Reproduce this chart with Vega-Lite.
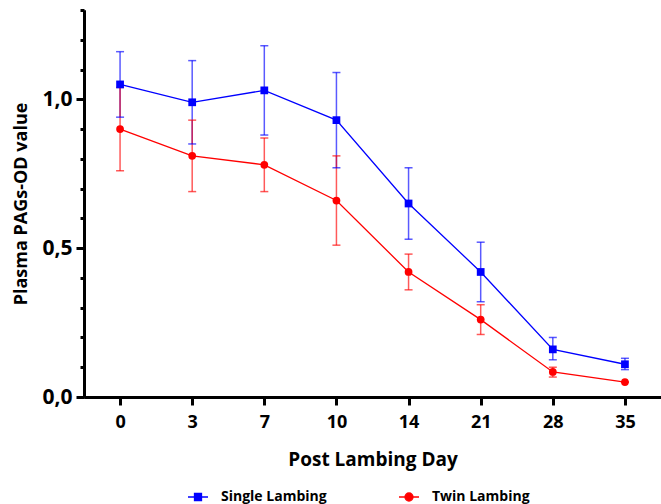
{
  "$schema": "https://vega.github.io/schema/vega-lite/v6.json",
  "width": 577,
  "height": 387,
  "autosize": {"type": "none"},
  "padding": {"left": 84, "top": 10, "right": 0, "bottom": 107},
  "background": "white",
  "config": {
    "view": {"stroke": null},
    "font": "Open Sans",
    "axis": {"grid": false, "domainColor": "black", "tickColor": "black", "labelColor": "black", "titleColor": "black", "labelFont": "Open Sans", "titleFont": "Open Sans", "labelFontWeight": "bold", "titleFontWeight": "bold"}
  },
  "data": {
    "values": [
      {"day": "0", "group": "Single Lambing", "mean": 1.05, "lo": 0.94, "hi": 1.16},
      {"day": "3", "group": "Single Lambing", "mean": 0.99, "lo": 0.85, "hi": 1.13},
      {"day": "7", "group": "Single Lambing", "mean": 1.03, "lo": 0.88, "hi": 1.18},
      {"day": "10", "group": "Single Lambing", "mean": 0.93, "lo": 0.77, "hi": 1.09},
      {"day": "14", "group": "Single Lambing", "mean": 0.65, "lo": 0.53, "hi": 0.77},
      {"day": "21", "group": "Single Lambing", "mean": 0.42, "lo": 0.32, "hi": 0.52},
      {"day": "28", "group": "Single Lambing", "mean": 0.16, "lo": 0.125, "hi": 0.2},
      {"day": "35", "group": "Single Lambing", "mean": 0.11, "lo": 0.092, "hi": 0.13},
      {"day": "0", "group": "Twin Lambing", "mean": 0.9, "lo": 0.76, "hi": 1.04},
      {"day": "3", "group": "Twin Lambing", "mean": 0.81, "lo": 0.69, "hi": 0.93},
      {"day": "7", "group": "Twin Lambing", "mean": 0.78, "lo": 0.69, "hi": 0.87},
      {"day": "10", "group": "Twin Lambing", "mean": 0.66, "lo": 0.51, "hi": 0.81},
      {"day": "14", "group": "Twin Lambing", "mean": 0.42, "lo": 0.36, "hi": 0.48},
      {"day": "21", "group": "Twin Lambing", "mean": 0.26, "lo": 0.21, "hi": 0.31},
      {"day": "28", "group": "Twin Lambing", "mean": 0.084, "lo": 0.067, "hi": 0.1},
      {"day": "35", "group": "Twin Lambing", "mean": 0.05, "lo": 0.05, "hi": 0.05}
    ]
  },
  "encoding": {
    "x": {
      "field": "day", "type": "ordinal",
      "sort": ["0", "3", "7", "10", "14", "21", "28", "35"],
      "scale": {"type": "point", "padding": 0.5},
      "axis": {"title": "Post Lambing Day", "labelAngle": 0, "domainWidth": 3, "tickWidth": 3, "tickSize": 8, "labelFontSize": 18, "labelPadding": 8, "titleFontSize": 19, "titlePadding": 19}
    },
    "color": {
      "field": "group", "type": "nominal",
      "scale": {"domain": ["Single Lambing", "Twin Lambing"], "range": ["#0000FF", "#FF0000"]},
      "legend": {
        "title": null, "orient": "none", "direction": "horizontal", "legendX": 103, "legendY": 476,
        "labelFont": "Open Sans", "labelFontWeight": "bold", "labelFontSize": 14, "labelColor": "black",
        "symbolSize": 400, "columnPadding": 69, "labelOffset": 12,
        "encode": {
          "symbols": {"update": {
            "shape": {"signal": "datum.value === 'Single Lambing' ? 'M-1,0H1M-0.35,-0.35H0.35V0.35H-0.35Z' : 'M-1,0H1M0.4,0A0.4,0.4 0 1 1 -0.4,0A0.4,0.4 0 1 1 0.4,0Z'"},
            "fill": {"signal": "datum.value === 'Single Lambing' ? '#0000FF' : '#FF0000'"},
            "stroke": {"signal": "datum.value === 'Single Lambing' ? '#0000FF' : '#FF0000'"},
            "fillOpacity": {"value": 1},
            "strokeWidth": {"value": 1.3},
            "size": {"value": 400}
          }}
        }
      }
    }
  },
  "resolve": {"scale": {"y": "independent"}, "axis": {"y": "independent"}},
  "layer": [
    {
      "mark": {"type": "rule", "strokeWidth": 1.5, "opacity": 0.65},
      "encoding": {
        "y": {"field": "lo", "type": "quantitative", "scale": {"domain": [0, 1.3], "nice": false, "zero": true},
          "axis": {"orient": "left", "values": [0, 0.1, 0.2, 0.3, 0.4, 0.6, 0.7, 0.8, 0.9, 1.1, 1.2, 1.3], "labels": false, "tickSize": 4, "tickWidth": 3, "domainWidth": 3, "title": null}},
        "y2": {"field": "hi"}
      }
    },
    {
      "mark": {"type": "tick", "thickness": 1.5, "size": 8, "opacity": 0.65},
      "encoding": {"y": {"field": "lo", "type": "quantitative", "scale": {"domain": [0, 1.3], "nice": false}, "axis": null}}
    },
    {
      "mark": {"type": "tick", "thickness": 1.5, "size": 8, "opacity": 0.65},
      "encoding": {"y": {"field": "hi", "type": "quantitative", "scale": {"domain": [0, 1.3], "nice": false}, "axis": null}}
    },
    {
      "mark": {"type": "line", "strokeWidth": 1.3},
      "encoding": {"y": {"field": "mean", "type": "quantitative", "scale": {"domain": [0, 1.3], "nice": false}, "axis": null}}
    },
    {
      "transform": [{"filter": "datum.group === 'Single Lambing'"}],
      "mark": {"type": "point", "filled": true, "opacity": 1, "size": 60, "shape": "square"},
      "encoding": {
        "y": {"field": "mean", "type": "quantitative", "scale": {"domain": [0, 1.3], "nice": false}, "axis": null}
      }
    },
    {
      "transform": [{"filter": "datum.group === 'Twin Lambing'"}],
      "mark": {"type": "point", "filled": true, "opacity": 1, "size": 60, "shape": "circle"},
      "encoding": {
        "y": {"field": "mean", "type": "quantitative", "scale": {"domain": [0, 1.3], "nice": false}, "axis": null}
      }
    },
    {
      "mark": {"type": "point", "opacity": 0},
      "encoding": {
        "y": {"field": "mean", "type": "quantitative", "scale": {"domain": [0, 1.3], "nice": false},
          "axis": {"orient": "left", "values": [0, 0.5, 1.0], "labelExpr": "replace(format(datum.value, '.1f'), '.', ',')", "tickSize": 8, "tickWidth": 3, "domainWidth": 3, "labelFontSize": 21, "labelPadding": 4, "title": "Plasma PAGs-OD value", "titleFontSize": 18, "titlePadding": 11}}
      }
    }
  ]
}
